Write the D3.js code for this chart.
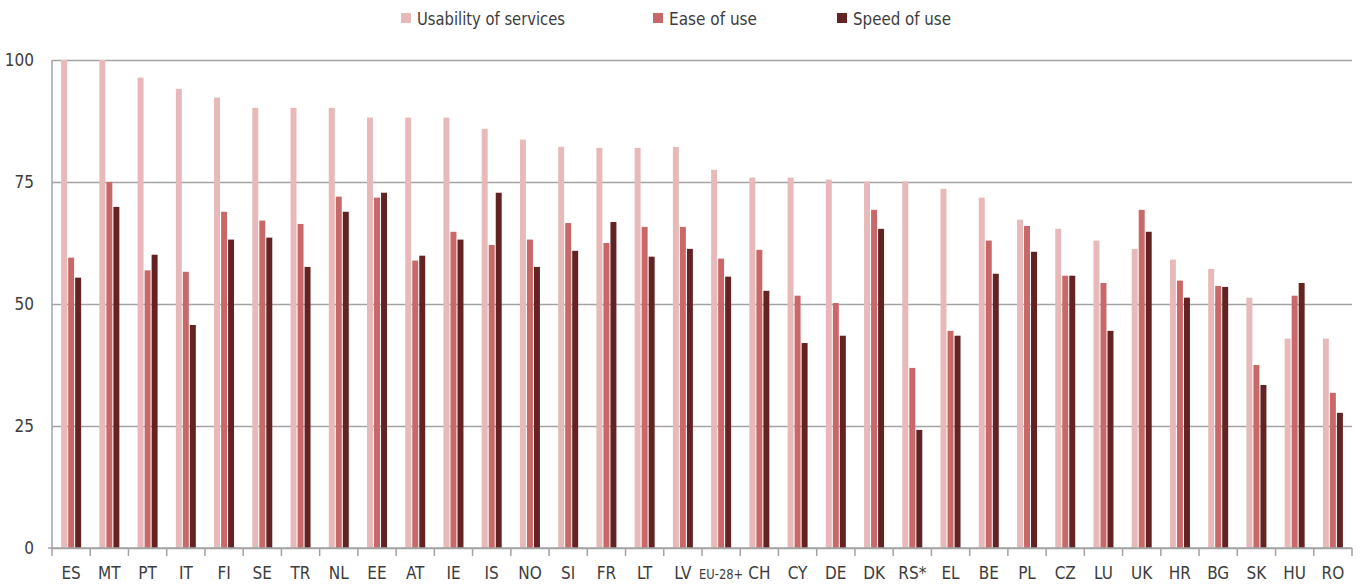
<!DOCTYPE html>
<html>
<head>
<meta charset="utf-8">
<script src="https://cdn.jsdelivr.net/npm/d3@7"></script>
<style>
    body { margin: 0; background: #fff; }
    svg { display: block; }
    text { font-family: "DejaVu Sans Condensed", "Liberation Sans Narrow", sans-serif; fill: #3d3d3d; }
</style>
</head>
<body>
<div id="chart"></div>
<script>
const countries = ["ES", "MT", "PT", "IT", "FI", "SE", "TR", "NL", "EE", "AT", "IE", "IS", "NO", "SI", "FR", "LT", "LV",
    "EU-28+", "CH", "CY", "DE", "DK", "RS*", "EL", "BE", "PL", "CZ", "LU", "UK", "HR", "BG", "SK", "HU", "RO"];
const seriesNames = ["Usability of services", "Ease of use", "Speed of use"];
const usability = [100, 100, 96.4, 94.1, 92.3, 90.2, 90.2, 90.2, 88.2, 88.2, 88.2, 85.9, 83.7, 82.2, 82.0, 82.0, 82.2,
    77.5, 75.9, 75.9, 75.5, 75.1, 75.1, 73.6, 71.8, 67.3, 65.4, 63.0, 61.3, 59.1, 57.2, 51.3, 42.9, 42.9];
const easeOfUse = [59.5, 75.0, 56.9, 56.6, 68.9, 67.1, 66.4, 72.0, 71.8, 58.9, 64.8, 62.1, 63.2, 66.6, 62.5, 65.8, 65.8,
    59.3, 61.1, 51.7, 50.2, 69.3, 36.9, 44.5, 63.0, 66.0, 55.8, 54.3, 69.3, 54.8, 53.7, 37.5, 51.7, 31.8];
const speedOfUse = [55.4, 69.9, 60.1, 45.7, 63.2, 63.6, 57.6, 68.9, 72.8, 59.9, 63.2, 72.8, 57.6, 60.9, 66.8, 59.7, 61.3,
    55.6, 52.7, 42.0, 43.5, 65.4, 24.2, 43.5, 56.2, 60.7, 55.8, 44.5, 64.8, 51.3, 53.5, 33.4, 54.3, 27.7];
const yTicks = [0, 25, 50, 75, 100];

const seriesValues = [usability, easeOfUse, speedOfUse];
const colors = ["#e8b9b9", "#c96868", "#632323"];

const outerWidth = 1363;
const outerHeight = 584;
const margin = {top: 60, right: 11, bottom: 36, left: 52};
const width = outerWidth - margin.left - margin.right;
const height = outerHeight - margin.top - margin.bottom;

const svg = d3.select("#chart")
    .append("svg")
    .attr("width", outerWidth)
    .attr("height", outerHeight);

const plot = svg.append("g")
    .attr("transform", `translate(${margin.left}, ${margin.top})`);

const x0 = d3.scaleBand()
    .domain(countries)
    .range([0, width])
    .paddingInner(0)
    .paddingOuter(0);
const groupWidth = 20;
const x1 = d3.scaleBand()
    .domain(d3.range(seriesNames.length))
    .range([0, groupWidth])
    .paddingInner(0.15);
const y = d3.scaleLinear()
    .domain([0, 100])
    .range([height, 0]);

// grid lines
plot.append("g")
    .call(d3.axisLeft(y).tickValues(yTicks).tickSize(-width).tickFormat(""))
    .call((g) => g.selectAll("line").attr("stroke", "#a3a3a3").attr("stroke-width", 1.5))
    .call((g) => g.select(".domain").remove());

const rows = countries.map((name, i) => ({name, values: seriesValues.map((s) => s[i])}));

const groups = plot.selectAll(".group")
    .data(rows)
    .enter()
    .append("g")
    .attr("transform", (d) => `translate(${x0(d.name) + (x0.bandwidth() - groupWidth) / 2}, 0)`);

groups.selectAll("rect")
    .data((d) => d.values.map((v, k) => ({k, v})))
    .enter()
    .append("rect")
    .attr("x", (d) => x1(d.k))
    .attr("y", (d) => y(d.v))
    .attr("width", x1.bandwidth())
    .attr("height", (d) => height - y(d.v))
    .attr("fill", (d) => colors[d.k]);

// x axis with ticks at band edges
const xAxis = plot.append("g")
    .attr("transform", `translate(0, ${height})`);
xAxis.append("line")
    .attr("x1", -4).attr("x2", width)
    .attr("stroke", "#a3a3a3").attr("stroke-width", 1.5);
xAxis.selectAll(".edge")
    .data(d3.range(countries.length + 1))
    .enter()
    .append("line")
    .attr("x1", (i) => i * x0.step())
    .attr("x2", (i) => i * x0.step())
    .attr("y1", 0).attr("y2", 8)
    .attr("stroke", "#a3a3a3").attr("stroke-width", 1.5);
xAxis.selectAll(".label")
    .data(countries)
    .enter()
    .append("text")
    .attr("x", (d) => x0(d) + x0.bandwidth() / 2)
    .attr("y", 31)
    .attr("text-anchor", "middle")
    .attr("font-size", (d) => d === "EU-28+" ? 14 : 17)
    .attr("textLength", (d) => d === "EU-28+" ? 44 : null)
    .attr("lengthAdjust", "spacingAndGlyphs")
    .text((d) => d);

// y axis line and labels
plot.append("line")
    .attr("x1", 0).attr("x2", 0)
    .attr("y1", 0).attr("y2", height)
    .attr("stroke", "#a3a3a3").attr("stroke-width", 1.5);
plot.selectAll(".ylabel")
    .data(yTicks)
    .enter()
    .append("text")
    .attr("x", -18)
    .attr("y", (d) => y(d))
    .attr("dy", "0.36em")
    .attr("text-anchor", "end")
    .attr("font-size", 17)
    .text((d) => d);

// legend
const legendX = [401, 653, 837];
const legendWidths = [148, 88, 98];
const legend = svg.append("g");
seriesNames.forEach((name, index) => {
    const item = legend.append("g")
        .attr("transform", `translate(${legendX[index]}, 13)`);
    item.append("rect")
        .attr("width", 10)
        .attr("height", 10)
        .attr("fill", colors[index]);
    item.append("text")
        .attr("x", 16)
        .attr("y", 12)
        .attr("font-size", 18)
        .attr("textLength", legendWidths[index])
        .attr("lengthAdjust", "spacingAndGlyphs")
        .text(name);
});
</script>
</body>
</html>
